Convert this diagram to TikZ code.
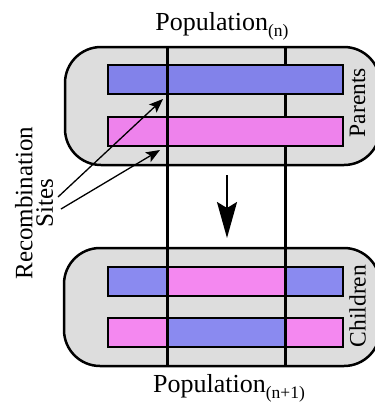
\documentclass[tikz,border=0pt]{standalone}
\usepackage{fontspec}
\setmainfont{Liberation Serif}
\usetikzlibrary{arrows.meta}

\definecolor{chromblue}{RGB}{130,130,234}
\definecolor{chrompink}{RGB}{238,130,236}
\definecolor{chromblueB}{RGB}{138,138,240}
\definecolor{chrompinkB}{RGB}{244,136,240}
\definecolor{poolgray}{RGB}{221,221,221}

\tikzset{
  pool/.style={draw=black, fill=poolgray, line width=2.5pt, rounded corners=36pt},
  bar/.style={draw=black, line width=2pt, inner sep=0pt, minimum height=29pt},
  cutline/.style={draw=black, line width=3pt},
  pointer/.style={draw=black, line width=1.3pt, -{Stealth[length=14pt, width=11pt, inset=3pt]}},
  flow/.style={draw=black, line width=2pt, -{Stealth[length=36pt, width=20pt, inset=6pt]}},
  bigtext/.style={font=\fontsize{26}{31}\selectfont, inner sep=0pt},
  sidetext/.style={font=\fontsize{23.5}{28}\selectfont, inner sep=0pt, rotate=90},
}

\newcommand{\popsub}[1]{\raisebox{-6pt}{\fontsize{17.5}{17.5}\selectfont #1}}

\begin{document}
\begin{tikzpicture}[x=1pt, y=-1pt]
  \useasboundingbox (0,0) rectangle (375,402);
  \clip (0,0) rectangle (375,402);

  % population containers
  \draw[pool] (65,47) rectangle (380,165);
  \draw[pool] (64,248) rectangle (380,366);

  % crossover site positions
  \coordinate (c1t) at (167,47);
  \coordinate (c1b) at (167,366);
  \coordinate (c2t) at (285,47);
  \coordinate (c2b) at (285,366);

  % second cut sits behind the parent chromosomes
  \draw[cutline] (c2t) -- (c2b);

  % parent chromosomes
  \node[bar, fill=chromblue, minimum width=235pt] (pa) at (225.5,79.5) {};
  \node[bar, fill=chrompink, minimum width=235pt] (pb) at (225.5,131.5) {};

  % child chromosomes, assembled from segments
  \node[bar, fill=chromblueB, minimum width=59pt]  (ca1) at (137.5,281.5) {};
  \node[bar, fill=chrompinkB, minimum width=118pt] (ca2) at (226,281.5) {};
  \node[bar, fill=chromblueB, minimum width=58pt]  (ca3) at (314,281.5) {};
  \node[bar, fill=chrompinkB, minimum width=59pt]  (cb1) at (137.5,332.5) {};
  \node[bar, fill=chromblueB, minimum width=118pt] (cb2) at (226,332.5) {};
  \node[bar, fill=chrompinkB, minimum width=58pt]  (cb3) at (314,332.5) {};

  % cut lines over the chromosomes
  \draw[cutline] (c1t) -- (c1b);
  \draw[cutline] (285,248) -- (c2b);

  % generation step
  \coordinate (g1) at (227,175);
  \coordinate (g2) at (227,238);
  \draw[flow] (g1) -- (g2);

  % labels
  \node[bigtext, anchor=base] (popn) at (222,30) {Population\popsub{(n)}};
  \node[bigtext, anchor=base] (popm) at (229,392) {Population\popsub{(n+1)}};
  \node[sidetext] (par) at (357.5,102.5) {Parents};
  \node[sidetext] (chi) at (357.5,306) {Children};
  \node[font=\fontsize{25}{20.5}\selectfont, inner sep=0pt, rotate=90, align=center]
    (rec) at (34,203) {Recombination\\Sites};

  % site pointers
  \coordinate (s1) at (163,99);
  \coordinate (s2) at (160,150);
  \draw[pointer] (58,197) -- (s1);
  \draw[pointer] (61,209) -- (s2);
\end{tikzpicture}
\end{document}
